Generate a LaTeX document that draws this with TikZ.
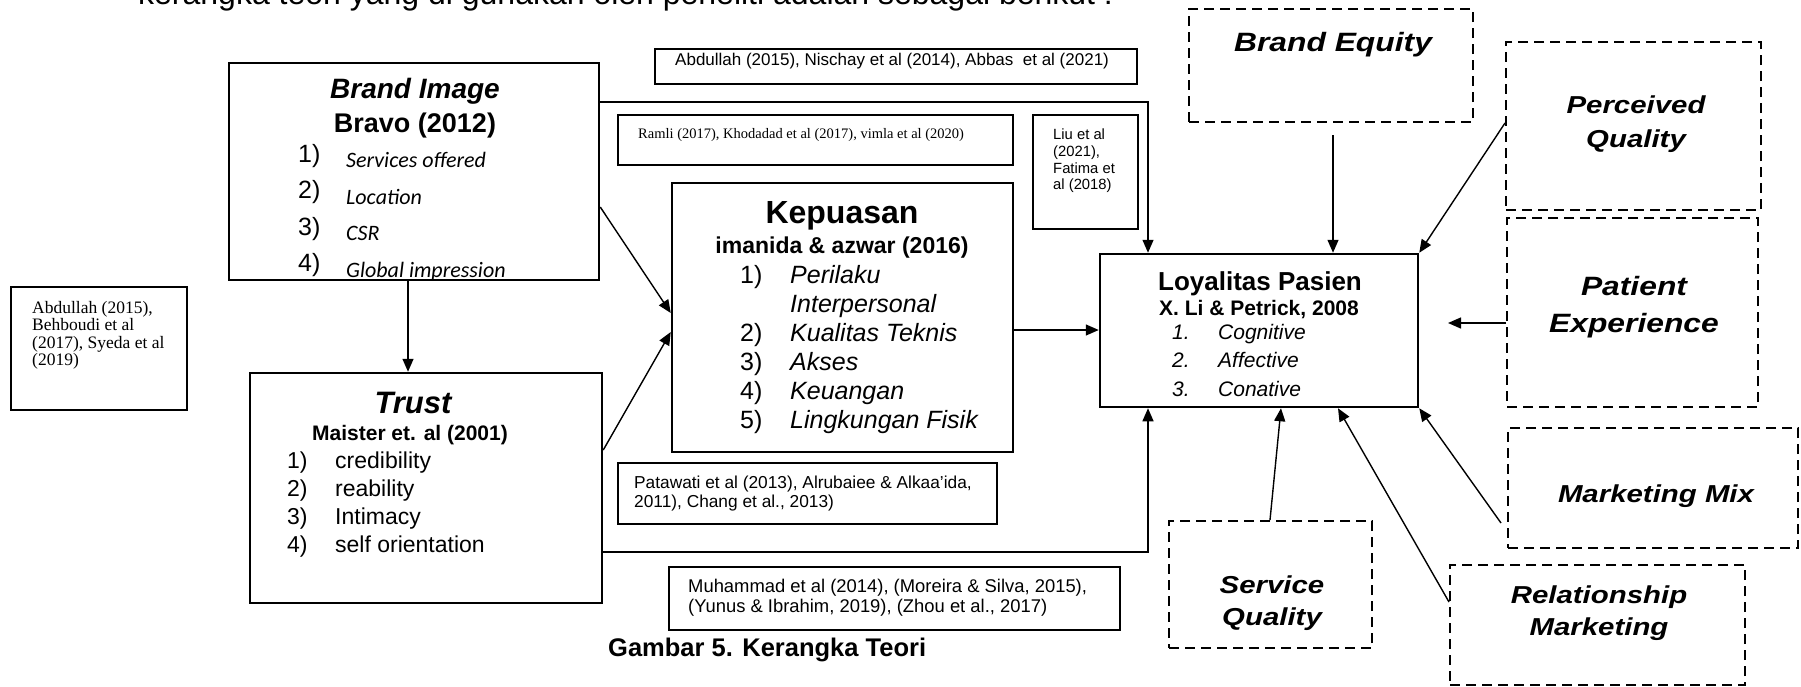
\documentclass[tikz,border=0pt]{standalone}
\usepackage{fontspec}
\setmainfont{Liberation Sans}
\newfontfamily\timesf{Liberation Serif}
\newfontfamily\calib{Carlito}
\newfontfamily\widef[FakeStretch=1.2]{Liberation Sans}
\usetikzlibrary{arrows.meta,calc}
\newcommand\fsz[1]{\fontsize{#1}{#1}\selectfont}
\begin{document}
\begin{tikzpicture}[x=1pt,y=-1pt,
  mainbox/.style={draw, line width=2.5pt, inner sep=0pt, rectangle},
  citebox/.style={draw, line width=1.2pt, inner sep=0pt, rectangle},
  dbox/.style={draw, line width=2pt, dash pattern=on 10pt off 6pt, inner sep=0pt, rectangle},
  txt/.style={inner sep=0pt, anchor=base},
  txtw/.style={inner sep=0pt, anchor=base west},
  arr/.style={draw, line width=1.4pt, -{Triangle[length=13pt,width=11pt]}},
  rtext/.style={txt, font=\widef\bfseries\itshape\fsz{24.5}}
]
\useasboundingbox[fill=white] (0,0) rectangle (1801,686);

% helper coordinates
\coordinate (x408) at (408,0);
\coordinate (x1148) at (1148,0);
\coordinate (x1333) at (1333,0);
\coordinate (x1270) at (1270,0);
\coordinate (x1281) at (1281,0);
\coordinate (x1338) at (1338,0);
\coordinate (x1448) at (1448,0);
\coordinate (y102) at (0,102);
\coordinate (y207) at (0,207);
\coordinate (y313) at (0,313);
\coordinate (y450) at (0,450);
\coordinate (y332) at (0,332);
\coordinate (y330) at (0,330);
\coordinate (y552) at (0,552);
\coordinate (y123) at (0,123);
\coordinate (y323) at (0,323);
\coordinate (y602) at (0,602);
\coordinate (y523) at (0,523);
\coordinate (y135) at (0,135);

% cropped heading text
\begin{scope}
\clip (0,0) rectangle (1801,686);
\node[txtw, font=\fsz{32}] (head) at (138,4) {kerangka teori yang di gunakan oleh peneliti adalah sebagai berikut :};
\end{scope}

% main boxes
\node[mainbox, minimum width=370pt, minimum height=217pt] (bi) at (414,171.5) {};
\node[mainbox, minimum width=352pt, minimum height=230pt] (tr) at (426,488) {};
\node[mainbox, minimum width=341pt, minimum height=269pt] (kp) at (842.5,317.5) {};
\node[mainbox, minimum width=318pt, minimum height=153pt] (loy) at (1259,330.5) {};

% citation boxes
\node[citebox, minimum width=176pt, minimum height=123pt] (cL) at (99,348.5) {};
\node[citebox, minimum width=482pt, minimum height=35pt] (cA) at (896,66.5) {};
\node[citebox, minimum width=395pt, minimum height=50pt] (cR) at (815.5,140) {};
\node[citebox, minimum width=105pt, minimum height=114pt] (cLiu) at (1085.5,172) {};
\node[citebox, minimum width=379pt, minimum height=61pt] (cP) at (807.5,493.5) {};
\node[citebox, minimum width=451pt, minimum height=63pt] (cM) at (894.5,598.5) {};

% dashed boxes
\node[dbox, minimum width=284pt, minimum height=113pt] (be) at (1331,65.5) {};
\node[dbox, minimum width=255pt, minimum height=168pt] (pq) at (1633.5,126) {};
\node[dbox, minimum width=251pt, minimum height=189pt] (pe) at (1632.5,312.5) {};
\node[dbox, minimum width=290pt, minimum height=120pt] (mm) at (1653,488) {};
\node[dbox, minimum width=203pt, minimum height=127pt] (sq) at (1270.5,584.5) {};
\node[dbox, minimum width=295pt, minimum height=120pt] (rm) at (1597.5,625) {};

% Brand Image text (clipped by box)
\begin{scope}
\clip (229,63) rectangle (599,280);
\node[txt, font=\bfseries\itshape\fsz{28}] (biT) at (415,98) {Brand Image};
\node[txt, font=\bfseries\fsz{27}] (biS) at (415,132) {Bravo (2012)};
\node[txtw, font=\fsz{25}] (bi1n) at (298,162) {1)};
\node[txtw, font=\fsz{25}] (bi2n) at (298,198) {2)};
\node[txtw, font=\fsz{25}] (bi3n) at (298,235) {3)};
\node[txtw, font=\fsz{25}] (bi4n) at (298,271) {4)};
\node[txtw, font=\calib\itshape\fsz{22}] (bi1) at (346,167) {Services offered};
\node[txtw, font=\calib\itshape\fsz{22}] (bi2) at (346,204) {Location};
\node[txtw, font=\calib\itshape\fsz{22}] (bi3) at (346,240) {CSR};
\node[txtw, font=\calib\itshape\fsz{22}] (bi4) at (346,277) {Global impression};
\end{scope}

% Trust text
\node[txt, font=\bfseries\itshape\fsz{31}] (trT) at (413,413) {Trust};
\node[txt, font=\bfseries\fsz{21}] (trS) at (410,440) {Maister et. al (2001)};
\node[txtw, font=\fsz{23}] (tr1n) at (287,468) {1)};
\node[txtw, font=\fsz{23}] (tr2n) at (287,496) {2)};
\node[txtw, font=\fsz{23}] (tr3n) at (287,524) {3)};
\node[txtw, font=\fsz{23}] (tr4n) at (287,552) {4)};
\node[txtw, font=\fsz{23}] (tr1) at (335,468) {credibility};
\node[txtw, font=\fsz{23}] (tr2) at (335,496) {reability};
\node[txtw, font=\fsz{23}] (tr3) at (335,524) {Intimacy};
\node[txtw, font=\fsz{23}] (tr4) at (335,552) {self orientation};

% Kepuasan text
\node[txt, font=\bfseries\fsz{32}] (kpT) at (842,223) {Kepuasan};
\node[txt, font=\bfseries\fsz{23}] (kpS) at (842,253) {imanida \& azwar (2016)};
\node[txtw, font=\fsz{25}] (kp1n) at (740,283) {1)};
\node[txtw, font=\fsz{25}] (kp2n) at (740,341) {2)};
\node[txtw, font=\fsz{25}] (kp3n) at (740,370) {3)};
\node[txtw, font=\fsz{25}] (kp4n) at (740,399) {4)};
\node[txtw, font=\fsz{25}] (kp5n) at (740,428) {5)};
\node[txtw, font=\itshape\fsz{25}] (kp1) at (790,283) {Perilaku};
\node[txtw, font=\itshape\fsz{25}] (kp1b) at (790,312) {Interpersonal};
\node[txtw, font=\itshape\fsz{25}] (kp2) at (790,341) {Kualitas Teknis};
\node[txtw, font=\itshape\fsz{25}] (kp3) at (790,370) {Akses};
\node[txtw, font=\itshape\fsz{25}] (kp4) at (790,399) {Keuangan};
\node[txtw, font=\itshape\fsz{25}] (kp5) at (790,428) {Lingkungan Fisik};

% Loyalitas text
\node[txt, font=\bfseries\fsz{26}] (loyT) at (1260,290) {Loyalitas Pasien};
\node[txt, font=\bfseries\fsz{21}] (loyS) at (1259,315) {X. Li \& Petrick, 2008};
\node[txtw, font=\itshape\fsz{21}] (loy1n) at (1172,339) {1.};
\node[txtw, font=\itshape\fsz{21}] (loy2n) at (1172,367) {2.};
\node[txtw, font=\itshape\fsz{21}] (loy3n) at (1172,396) {3.};
\node[txtw, font=\itshape\fsz{21}] (loy1) at (1218,339) {Cognitive};
\node[txtw, font=\itshape\fsz{21}] (loy2) at (1218,367) {Affective};
\node[txtw, font=\itshape\fsz{21}] (loy3) at (1218,396) {Conative};

% citation texts
\node[txtw, font=\timesf\fsz{17.5}] (cL1) at (32,313) {Abdullah (2015),};
\node[txtw, font=\timesf\fsz{17.5}] (cL2) at (32,330.5) {Behboudi et al};
\node[txtw, font=\timesf\fsz{17.5}] (cL3) at (32,348) {(2017), Syeda et al};
\node[txtw, font=\timesf\fsz{17.5}] (cL4) at (32,365.5) {(2019)};
\node[txtw, font=\fsz{17}] (cAt) at (675,65) {Abdullah (2015), Nischay et al (2014), Abbas\ \ et al (2021)};
\node[txtw, font=\timesf\fsz{14.5}] (cRt) at (638,138) {Ramli (2017), Khodadad et al (2017), vimla et al (2020)};
\node[txtw, font=\fsz{14.8}] (cLiu1) at (1053,139) {Liu et al};
\node[txtw, font=\fsz{14.8}] (cLiu2) at (1053,156) {(2021),};
\node[txtw, font=\fsz{14.8}] (cLiu3) at (1053,173) {Fatima et};
\node[txtw, font=\fsz{14.8}] (cLiu4) at (1053,189) {al (2018)};
\node[txtw, font=\fsz{17.3}] (cP1) at (634,488) {Patawati et al (2013), Alrubaiee \& Alkaa’ida,};
\node[txtw, font=\fsz{17.3}] (cP2) at (634,507) {2011), Chang et al., 2013)};
\node[txtw, font=\fsz{18.4}] (cM1) at (688,592) {Muhammad et al (2014), (Moreira \& Silva, 2015),};
\node[txtw, font=\fsz{18.4}] (cM2) at (688,612) {(Yunus \& Ibrahim, 2019), (Zhou et al., 2017)};

% caption
\node[txtw, font=\bfseries\fsz{25.5}] (cap) at (608,656) {Gambar 5. Kerangka Teori};

% right dashed box texts
\node[rtext, font=\widef\bfseries\itshape\fsz{26.5}] (beT) at (1333,51) {Brand Equity};
\node[rtext] (pqT1) at (1636,113) {Perceived};
\node[rtext] (pqT2) at (1636,147) {Quality};
\node[rtext, font=\widef\bfseries\itshape\fsz{26.5}] (peT1) at (1634,295) {Patient};
\node[rtext, font=\widef\bfseries\itshape\fsz{26.5}] (peT2) at (1634,332) {Experience};
\node[rtext] (sqT1) at (1272,593) {Service};
\node[rtext] (sqT2) at (1272,625) {Quality};
\node[rtext] (mmT) at (1656,502) {Marketing Mix};
\node[rtext] (rmT1) at (1599,603) {Relationship};
\node[rtext] (rmT2) at (1599,635) {Marketing};

% connectors
\draw[arr] (bi.south -| x408) -- (tr.north -| x408);
\draw[arr] (bi.east |- y207) -- (kp.west |- y313);
\draw[arr] (tr.east |- y450) -- (kp.west |- y332);
\draw[arr] (bi.east |- y102) -| (loy.north -| x1148);
\draw[arr] (kp.east |- y330) -- (loy.west |- y330);
\draw[arr] (tr.east |- y552) -| (loy.south -| x1148);
\draw[arr] (x1333 |- y135) -- (loy.north -| x1333);
\draw[arr] (pq.west |- y123) -- (loy.north east);
\draw[arr] (pe.west |- y323) -- (x1448 |- y323);
\draw[arr] (sq.north -| x1270) -- (loy.south -| x1281);
\draw[arr] (rm.west |- y602) -- (loy.south -| x1338);
\draw[arr] ([xshift=-6pt]mm.west |- y523) -- (loy.south east);
\end{tikzpicture}
\end{document}
